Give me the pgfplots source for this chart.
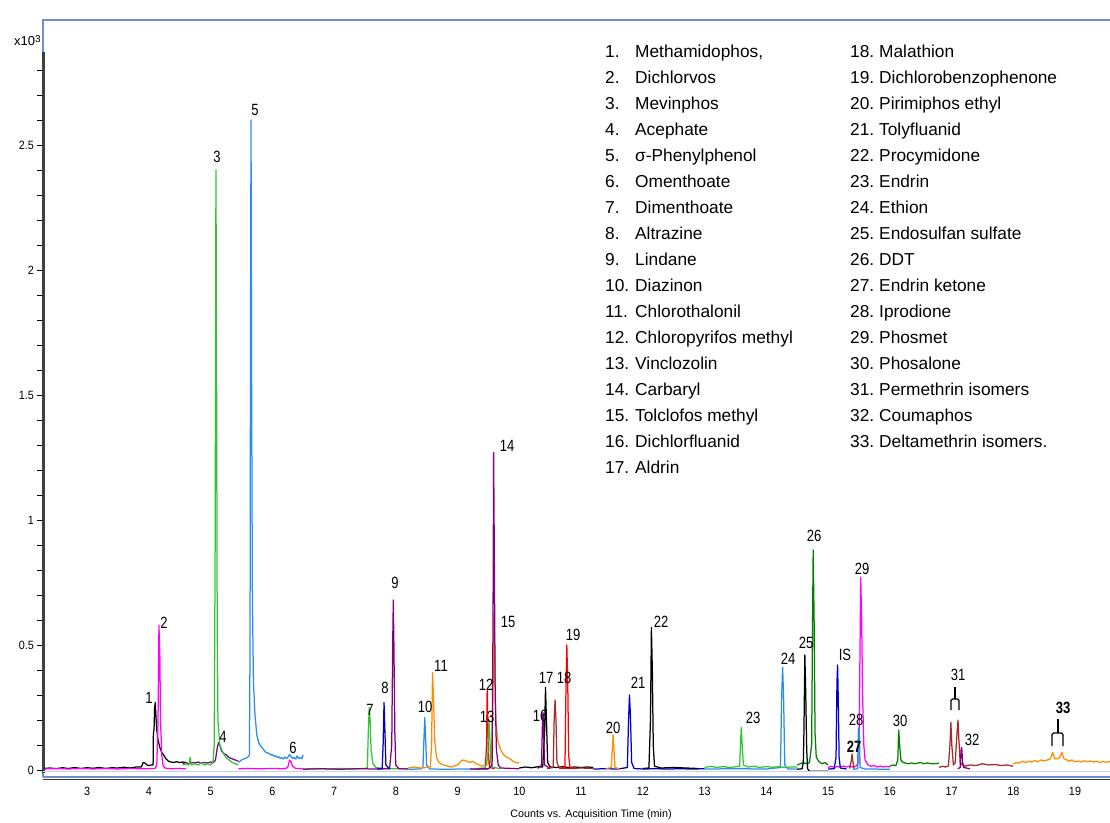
\documentclass[border=0pt]{standalone}
\usepackage{fontspec}
\setmainfont{Liberation Sans}
\newfontfamily\condfont[FakeStretch=0.8]{Liberation Sans}
\newfontfamily\tickfont[FakeStretch=0.9]{Liberation Sans}
\usepackage{pgfplots}
\pgfplotsset{compat=1.18}
\definecolor{cmag}{HTML}{FF00FF}
\definecolor{clime}{HTML}{33C433}
\definecolor{cpur}{HTML}{800080}
\definecolor{cblu}{HTML}{2A8CF0}
\definecolor{cdblu}{HTML}{0000CC}
\definecolor{corg}{HTML}{FF8C00}
\definecolor{cred}{HTML}{FF0000}
\definecolor{cbrn}{HTML}{A52A2A}
\definecolor{cdgrn}{HTML}{008000}
\definecolor{frame}{HTML}{6F90D0}
\begin{document}
\begin{tikzpicture}
\begin{axis}[
  at={(0pt,0pt)}, anchor=south west,
  width=1067pt, height=757pt, scale only axis,
  xmin=2.287, xmax=19.567, ymin=-0.028, ymax=3.0,
  axis line style={draw=none},
  xtick={3,4,5,6,7,8,9,10,11,12,13,14,15,16,17,18,19},
  xticklabels={3,4,5,6,7,8,9,10,11,12,13,14,15,16,17,18,19},
  xtick style={draw=none},
  extra x ticks={2.5,3,3.5,4,4.5,5,5.5,6,6.5,7,7.5,8,8.5,9,9.5,10,10.5,11,11.5,12,12.5,13,13.5,14,14.5,15,15.5,16,16.5,17,17.5,18,18.5,19,19.5},
  extra x tick labels={},
  extra x tick style={major tick length=8pt, tick style={draw=black, line width=0.9pt}},
  ytick={0,0.5,1,1.5,2,2.5},
  yticklabels={0,0.5,1,1.5,2,2.5},
  minor ytick={0.1,0.2,0.3,0.4,0.6,0.7,0.8,0.9,1.1,1.2,1.3,1.4,1.6,1.7,1.8,1.9,2.1,2.2,2.3,2.4,2.6,2.7,2.8},
  xtick pos=bottom, ytick pos=left, tick align=outside,
  major tick length=6pt, minor tick length=6pt,
  tick style={black, line width=0.8pt},
  yticklabel style={font=\tickfont\fontsize{12}{14}\selectfont, inner sep=0pt, xshift=-3pt},
  xticklabel style={font=\tickfont\fontsize{12}{14}\selectfont, inner sep=0pt, yshift=-4pt},
  every axis plot/.append style={line width=1.25pt, line join=round, no markers},
]
% black A
\addplot[black] coordinates {(2.29,0.006)(2.4,0.008)(2.5,0.005)(2.6,0.009)(2.7,0.006)(2.8,0.01)(2.9,0.006)(3.0,0.009)(3.1,0.007)(3.2,0.01)(3.3,0.006)(3.4,0.009)(3.5,0.008)(3.6,0.011)(3.7,0.008)(3.8,0.012)(3.88,0.012)(3.91,0.03)(3.94,0.028)(3.97,0.02)(4.0,0.018)(4.04,0.02)(4.07,0.02)(4.075,0.15)(4.085,0.16)(4.095,0.25)(4.105,0.27)(4.115,0.22)(4.13,0.16)(4.15,0.12)(4.18,0.09)(4.21,0.07)(4.24,0.06)(4.28,0.045)(4.32,0.035)(4.36,0.032)(4.4,0.03)(4.45,0.033)(4.5,0.03)(4.55,0.032)(4.6,0.03)};
% magenta A
\addplot[cmag] coordinates {(2.29,0.004)(2.5,0.006)(2.7,0.004)(2.9,0.006)(3.1,0.004)(3.3,0.006)(3.5,0.004)(3.7,0.006)(3.9,0.005)(4.1,0.006)(4.13,0.02)(4.15,0.2)(4.165,0.58)(4.18,0.45)(4.19,0.2)(4.21,0.06)(4.23,0.02)(4.26,0.008)(4.35,0.005)(4.45,0.006)(4.6,0.005)};
% purple A
\addplot[cpur] coordinates {(4.55,0.025)(4.6,0.03)(4.65,0.025)(4.7,0.03)(4.75,0.028)(4.8,0.032)(4.85,0.027)(4.9,0.03)(4.95,0.028)(5.0,0.032)(5.05,0.03)(5.08,0.04)(5.11,0.09)(5.13,0.11)(5.15,0.1)(5.18,0.075)(5.22,0.065)(5.26,0.06)(5.3,0.05)(5.35,0.045)(5.4,0.04)(5.45,0.035)};
% green A
\addplot[clime] coordinates {(4.55,0.02)(4.6,0.025)(4.65,0.02)(4.67,0.05)(4.69,0.02)(4.75,0.025)(4.8,0.02)(4.85,0.03)(4.9,0.02)(4.95,0.025)(5.0,0.02)(5.04,0.03)(5.06,0.1)(5.075,0.9)(5.088,2.4)(5.098,1.6)(5.108,0.6)(5.12,0.2)(5.15,0.1)(5.2,0.07)(5.25,0.05)(5.3,0.04)(5.35,0.03)(5.4,0.025)(5.45,0.02)};
% magenta B
\addplot[cmag] coordinates {(5.45,0.005)(5.6,0.006)(5.8,0.005)(6.0,0.006)(6.2,0.005)(6.25,0.01)(6.28,0.04)(6.3,0.035)(6.33,0.015)(6.38,0.006)(6.5,0.005)};
% blue A
\addplot[cblu] coordinates {(5.45,0.03)(5.5,0.04)(5.55,0.045)(5.6,0.05)(5.63,0.06)(5.64,0.5)(5.648,1.8)(5.656,2.6)(5.666,1.5)(5.678,0.7)(5.695,0.35)(5.72,0.22)(5.75,0.14)(5.78,0.11)(5.8,0.1)(5.83,0.09)(5.85,0.085)(5.88,0.075)(5.9,0.07)(5.93,0.068)(5.95,0.065)(5.98,0.06)(6.0,0.062)(6.03,0.055)(6.05,0.058)(6.08,0.05)(6.1,0.054)(6.13,0.046)(6.15,0.05)(6.18,0.044)(6.2,0.052)(6.23,0.046)(6.25,0.05)(6.28,0.062)(6.3,0.055)(6.33,0.046)(6.35,0.05)(6.38,0.044)(6.4,0.056)(6.43,0.046)(6.45,0.05)(6.48,0.045)(6.5,0.06)};
% green B
\addplot[clime] coordinates {(6.5,0.004)(6.7,0.006)(6.9,0.004)(7.1,0.006)(7.3,0.005)(7.5,0.006)(7.54,0.01)(7.555,0.15)(7.57,0.25)(7.585,0.2)(7.6,0.08)(7.63,0.025)(7.68,0.01)(7.8,0.006)(8.0,0.005)(8.2,0.006)};
% purple B
\addplot[cpur] coordinates {(6.5,0.003)(6.8,0.005)(7.1,0.003)(7.4,0.005)(7.7,0.004)(7.9,0.005)(7.935,0.1)(7.95,0.5)(7.96,0.68)(7.97,0.5)(7.985,0.15)(8.0,0.02)(8.05,0.005)(8.2,0.004)};
% dark blue A
\addplot[cdblu] coordinates {(7.7,0.004)(7.78,0.006)(7.795,0.1)(7.81,0.27)(7.825,0.15)(7.84,0.02)(7.9,0.004)};
% blue B
\addplot[cblu] coordinates {(8.2,0.003)(8.4,0.004)(8.44,0.01)(8.46,0.15)(8.47,0.21)(8.48,0.15)(8.5,0.02)(8.55,0.004)(8.8,0.003)(9.1,0.004)(9.5,0.003)};
% orange A
\addplot[corg] coordinates {(8.2,0.008)(8.3,0.012)(8.4,0.008)(8.5,0.01)(8.56,0.012)(8.58,0.1)(8.595,0.39)(8.61,0.3)(8.63,0.12)(8.66,0.05)(8.7,0.03)(8.75,0.022)(8.8,0.018)(8.9,0.012)(9.0,0.02)(9.05,0.035)(9.1,0.04)(9.15,0.035)(9.2,0.03)(9.25,0.035)(9.3,0.025)(9.35,0.02)(9.4,0.015)(9.45,0.02)(9.5,0.025)(9.55,0.05)(9.575,0.3)(9.59,0.63)(9.605,0.45)(9.62,0.2)(9.65,0.12)(9.7,0.08)(9.75,0.06)(9.8,0.05)(9.85,0.045)(9.9,0.035)(9.95,0.03)(10.0,0.028)};
% red A
\addplot[cred] coordinates {(9.3,0.005)(9.45,0.006)(9.47,0.1)(9.48,0.32)(9.49,0.2)(9.505,0.05)(9.52,0.01)(9.6,0.005)};
% green C
\addplot[clime] coordinates {(9.3,0.006)(9.45,0.008)(9.49,0.05)(9.505,0.21)(9.52,0.15)(9.54,0.03)(9.57,0.01)(9.7,0.006)};
% purple C
\addplot[cpur] coordinates {(9.2,0.004)(9.5,0.005)(9.56,0.02)(9.575,0.6)(9.585,1.27)(9.595,0.9)(9.61,0.3)(9.63,0.08)(9.66,0.02)(9.7,0.008)(10.0,0.005)};
% black B
\addplot[black] coordinates {(10.0,0.008)(10.1,0.012)(10.2,0.009)(10.3,0.013)(10.38,0.012)(10.41,0.15)(10.425,0.33)(10.44,0.2)(10.46,0.03)(10.5,0.012)(10.6,0.01)(10.7,0.013)(10.8,0.01)(10.9,0.012)(11.0,0.01)(11.1,0.012)(11.2,0.01)};
% purple D
\addplot[cpur] coordinates {(10.3,0.006)(10.36,0.02)(10.375,0.18)(10.385,0.23)(10.395,0.15)(10.41,0.02)(10.5,0.006)};
% brown A
\addplot[cbrn] coordinates {(10.45,0.006)(10.55,0.01)(10.565,0.2)(10.58,0.28)(10.595,0.2)(10.61,0.03)(10.65,0.008)(10.8,0.006)(11.0,0.008)(11.2,0.006)};
% red B
\addplot[cred] coordinates {(10.65,0.006)(10.74,0.01)(10.755,0.3)(10.77,0.5)(10.785,0.35)(10.8,0.06)(10.82,0.01)(10.9,0.006)};
% dark blue B
\addplot[cdblu] coordinates {(11.2,0.004)(11.4,0.005)(11.6,0.004)(11.75,0.01)(11.77,0.2)(11.785,0.3)(11.8,0.22)(11.82,0.03)(11.86,0.006)(12.0,0.004)(12.2,0.005)(12.4,0.004)(12.6,0.005)(12.8,0.004)(13.0,0.005)};
% orange B
\addplot[corg] coordinates {(11.4,0.005)(11.49,0.01)(11.51,0.1)(11.52,0.14)(11.53,0.1)(11.55,0.01)(11.62,0.005)};
% black C
\addplot[black] coordinates {(12.0,0.006)(12.1,0.008)(12.125,0.2)(12.14,0.57)(12.155,0.4)(12.17,0.1)(12.19,0.015)(12.3,0.008)(12.5,0.01)(12.7,0.008)(12.9,0.006)};
% blue C
\addplot[cblu] coordinates {(13.0,0.004)(13.5,0.005)(14.0,0.004)(14.23,0.01)(14.25,0.3)(14.265,0.41)(14.28,0.3)(14.3,0.02)(14.35,0.004)(14.5,0.004)};
% green D
\addplot[clime] coordinates {(13.0,0.01)(13.1,0.015)(13.2,0.01)(13.3,0.014)(13.4,0.01)(13.5,0.013)(13.57,0.015)(13.585,0.12)(13.595,0.17)(13.61,0.1)(13.63,0.02)(13.7,0.012)(13.8,0.015)(13.9,0.01)(14.0,0.014)(14.1,0.011)(14.2,0.013)(14.3,0.01)(14.4,0.012)(14.5,0.012)};
% dark green A
\addplot[cdgrn] coordinates {(14.5,0.02)(14.55,0.025)(14.6,0.03)(14.65,0.025)(14.7,0.03)(14.735,0.1)(14.75,0.6)(14.76,0.88)(14.775,0.6)(14.79,0.15)(14.81,0.05)(14.85,0.035)(14.9,0.025)(14.95,0.03)(15.0,0.02)};
% black D
\addplot[black] coordinates {(14.5,0.003)(14.58,0.005)(14.6,0.03)(14.61,0.15)(14.625,0.46)(14.64,0.3)(14.655,0.08)(14.67,0.005)(14.7,-0.005)(14.85,-0.005)(15.0,-0.005)};
% magenta C
\addplot[cmag] coordinates {(15.0,0.01)(15.05,0.015)(15.1,0.01)(15.15,0.014)(15.2,0.012)(15.25,0.016)(15.3,0.012)(15.35,0.015)(15.4,0.012)(15.45,0.015)(15.5,0.03)(15.515,0.4)(15.53,0.77)(15.545,0.6)(15.56,0.3)(15.58,0.1)(15.6,0.04)(15.65,0.02)(15.7,0.015)(15.75,0.018)(15.8,0.012)(15.85,0.016)(15.9,0.012)(15.95,0.015)(16.0,0.012)};
% dark blue C (IS)
\addplot[cdblu] coordinates {(15.0,0.004)(15.1,0.005)(15.13,0.05)(15.145,0.35)(15.155,0.42)(15.165,0.3)(15.18,0.05)(15.2,0.008)(15.3,0.004)};
% brown B
\addplot[cbrn] coordinates {(15.35,0.006)(15.38,0.04)(15.39,0.064)(15.4,0.04)(15.42,0.006)};
% blue D
\addplot[cblu] coordinates {(15.4,0.003)(15.48,0.005)(15.49,0.16)(15.5,0.17)(15.51,0.12)(15.52,0.01)(15.6,0.004)(16.0,0.003)};
% dark green B
\addplot[cdgrn] coordinates {(16.0,0.015)(16.05,0.02)(16.1,0.018)(16.13,0.04)(16.145,0.16)(16.16,0.1)(16.18,0.04)(16.22,0.03)(16.3,0.025)(16.35,0.028)(16.4,0.025)(16.5,0.03)(16.55,0.025)(16.6,0.028)(16.7,0.025)(16.8,0.027)};
% brown C
\addplot[cbrn] coordinates {(16.8,0.01)(16.85,0.015)(16.9,0.012)(16.95,0.016)(16.975,0.1)(16.99,0.19)(17.005,0.1)(17.03,0.02)(17.06,0.03)(17.09,0.15)(17.105,0.2)(17.12,0.12)(17.14,0.03)(17.2,0.015)(17.3,0.02)(17.4,0.018)(17.5,0.025)(17.6,0.02)(17.7,0.022)(17.8,0.018)(17.9,0.02)(18.0,0.015)};
% purple E
\addplot[cpur] coordinates {(17.1,0.005)(17.14,0.01)(17.155,0.08)(17.165,0.09)(17.18,0.03)(17.2,0.01)(17.3,0.005)};
% orange C
\addplot[corg] coordinates {(18.0,0.025)(18.05,0.03)(18.1,0.028)(18.15,0.035)(18.2,0.03)(18.25,0.035)(18.3,0.032)(18.35,0.038)(18.4,0.033)(18.45,0.04)(18.5,0.036)(18.55,0.04)(18.6,0.045)(18.64,0.07)(18.67,0.045)(18.72,0.045)(18.75,0.05)(18.79,0.07)(18.82,0.045)(18.87,0.04)(18.9,0.035)(18.95,0.04)(19.0,0.033)(19.05,0.036)(19.1,0.032)(19.15,0.037)(19.2,0.033)(19.25,0.036)(19.3,0.032)(19.35,0.035)(19.4,0.03)(19.45,0.034)(19.5,0.031)(19.567,0.033)};
\end{axis}
\begin{scope}[x=1pt,y=1pt]
% frame
\draw[frame, line width=1.5pt] (0,0) -- (0,757) -- (1067,757);
\draw[black!75, line width=2.5pt] (0.5,725) -- (0.5,4);
\draw[frame!40, line width=1pt] (0,6) -- (1067,6);
\draw[frame, line width=1.6pt] (0,0) -- (1067,0);
\draw[black!80, line width=0.9pt] (0,-2) -- (1067,-2);
% multiplier
\node[anchor=base west, inner sep=0pt, font=\fontsize{13}{14}\selectfont] at (-29,731) {x10\raisebox{3.5pt}{\fontsize{10}{10}\selectfont 3}};
% x label
\node[font=\fontsize{10.8}{12}\selectfont] at (548,-38) {Counts vs. Acquisition Time (min)};
% legend
\begin{scope}[every node/.style={anchor=base west, inner sep=0pt, font=\fontsize{17.3}{20}\selectfont}]
\foreach \n/\t [count=\i from 0] in {1/Methamidophos{,},2/Dichlorvos,3/Mevinphos,4/Acephate,5/σ-Phenylphenol,6/Omenthoate,7/Dimenthoate,8/Altrazine,9/Lindane,10/Diazinon,11/Chlorothalonil,12/Chloropyrifos methyl,13/Vinclozolin,14/Carbaryl,15/Tolclofos methyl,16/Dichlorfluanid,17/Aldrin}
{\node at (562,719-26*\i) {\n.}; \node at (592,719-26*\i) {\t};}
\foreach \n/\t [count=\i from 0] in {18/Malathion,19/Dichlorobenzophenone,20/Pirimiphos ethyl,21/Tolyfluanid,22/Procymidone,23/Endrin,24/Ethion,25/Endosulfan sulfate,26/DDT,27/Endrin ketone,28/Iprodione,29/Phosmet,30/Phosalone,31/Permethrin isomers,32/Coumaphos,33/Deltamethrin isomers.}
{\node at (807,719-26*\i) {\n.}; \node at (836,719-26*\i) {\t};}
\end{scope}
% peak labels
\begin{scope}[every node/.style={inner sep=0pt, font=\condfont\fontsize{16.3}{17}\selectfont}]
\foreach \px/\py/\t in {149/698/1,164/623/2,217/157/3,223/737/4,255/110/5,293/748/6,370/710/7,385/688/8,395/583/9,425/707/10,441/666/11,486/685/12,487/717/13,507/446/14,508/622/15,540/716/16,546/678/17,564/678/18,573/635/19,613/728/20,638/683/21,661/622/22,753/718/23,788/659/24,806/643/25,814/536/26,845/655/IS,856/720/28,862/569/29,900/721/30,958/675/31,972/740/32}
{\node at (\px-43,777-\py) {\t};}
\node[font=\condfont\bfseries\fontsize{16.3}{17}\selectfont] at (854-43,777-747) {27};
\node[font=\condfont\bfseries\fontsize{16.3}{17}\selectfont] at (1063-43,777-708) {33};
\end{scope}
% brackets
\draw[black, line width=1.1pt] (955-43,777-687) -- (955-43,777-699);
\draw[black, line width=1.1pt, rounded corners=1.5pt] (951-43,777-710) -- (951-43,777-699) -- (959-43,777-699) -- (959-43,777-710);
\draw[black, line width=1.1pt] (1058-43,777-719) -- (1058-43,777-733);
\draw[black, line width=1.1pt, rounded corners=1.5pt] (1052-43,777-746) -- (1052-43,777-733) -- (1063-43,777-733) -- (1063-43,777-746);
\end{scope}
\pgfresetboundingbox
\path[use as bounding box] (-43pt,-45pt) rectangle (1067pt,777pt);
\end{tikzpicture}
\end{document}
